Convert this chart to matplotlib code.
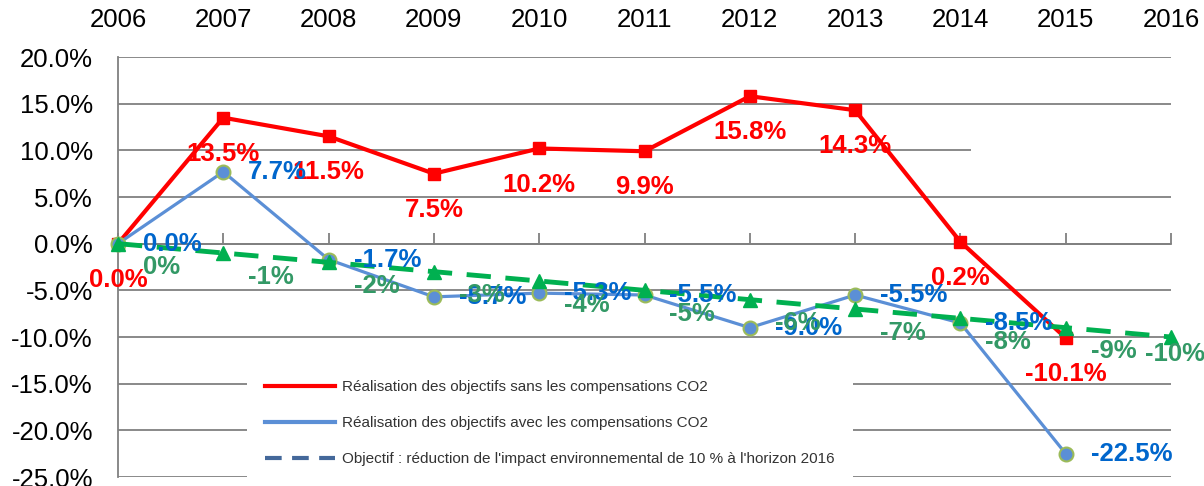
import matplotlib
matplotlib.use("Agg")
from matplotlib import pyplot as plt
from matplotlib.lines import Line2D
from matplotlib.ticker import FuncFormatter

plt.rcParams['font.family'] = ['Liberation Sans', 'DejaVu Sans']

years = [2006, 2007, 2008, 2009, 2010, 2011, 2012, 2013, 2014, 2015, 2016]
sans_co2 = [0.0, 13.5, 11.5, 7.5, 10.2, 9.9, 15.8, 14.3, 0.2, -10.1]
avec_co2 = [0.0, 7.7, -1.7, -5.7, -5.3, -5.5, -9.0, -5.5, -8.5, -22.5]
objectif = [0, -1, -2, -3, -4, -5, -6, -7, -8, -9, -10]
y_ticks = [-25, -20, -15, -10, -5, 0, 5, 10, 15, 20]

labels = ["Réalisation des objectifs sans les compensations CO2",
          "Réalisation des objectifs avec les compensations CO2",
          "Objectif : réduction de l'impact environnemental de 10 % à l'horizon 2016"]

fig = plt.figure(figsize=(12.04, 4.86), dpi=100)
ax = fig.add_axes([118/1204, 1-477/486, (1171-118)/1204, (477-57)/486])

# gridlines (the 10% one stops short in the original)
grid_end = {10: 2014.1}
for v in y_ticks:
    ax.hlines(v, 2006, grid_end.get(v, 2016), color='#808080', lw=1.3, zorder=0)

# lines
ax.plot(years[:len(sans_co2)], sans_co2, color='#FF0000', lw=3, marker='s',
        markersize=9, clip_on=False, zorder=3)
ax.plot(years[:len(avec_co2)], avec_co2, color='#5B8FD6', lw=2.3, marker='o',
        markersize=10, markerfacecolor='#5B8FD6', markeredgecolor='#9BBB59',
        markeredgewidth=1.5, clip_on=False, zorder=4)
ax.plot(years, objectif, color='#00B050', lw=3.5, dashes=(5, 3), marker='^',
        markersize=10, clip_on=False, zorder=5)

# data labels
fs = 18.5
for x, v in zip(years, sans_co2):
    ax.annotate(f"{v:.1f}%", (x, v), xytext=(0, -26), textcoords='offset points',
                ha='center', va='center', color='#FF0000', fontsize=fs,
                fontweight='bold', zorder=6)
for x, v in zip(years, avec_co2):
    ax.annotate(f"{v:.1f}%", (x, v), xytext=(18, 0), textcoords='offset points',
                ha='left', va='center', color='#0066CC', fontsize=fs,
                fontweight='bold', zorder=7)
for i, (x, v) in enumerate(zip(years, objectif)):
    off = (18, -17) if i < len(objectif) - 1 else (-19, -12)
    ax.annotate(f"{v}%", (x, v), xytext=off, textcoords='offset points',
                ha='left', va='center', color='#339966', fontsize=fs,
                fontweight='bold', zorder=8)

ax.set_xlim(2006, 2016)
ax.set_ylim(-25, 20)
ax.set_xticks(years)
ax.set_yticks(y_ticks)
ax.yaxis.set_major_formatter(FuncFormatter(lambda v, p: f"{v:.1f}%"))

for s in ['top', 'right']:
    ax.spines[s].set_visible(False)
ax.spines['left'].set_color('#808080')
ax.spines['left'].set_linewidth(1.3)
ax.spines['bottom'].set_position(('data', 0))
ax.spines['bottom'].set_color('#808080')
ax.spines['bottom'].set_linewidth(1.3)

ax.tick_params(axis='x', direction='in', length=8, width=1.3, color='#808080',
               bottom=True, top=False, labelbottom=False, labeltop=True,
               labelsize=18.5, pad=18)
ax.tick_params(axis='y', length=0, labelsize=18.5, pad=18)

handles = [Line2D([], [], color='#FF0000', lw=3),
           Line2D([], [], color='#5B8FD6', lw=3),
           Line2D([], [], color='#44689A', lw=3, dashes=(4, 2.5))]
leg = ax.legend(handles, labels, loc='upper left',
                bbox_to_anchor=(247/1204, 1-362/486), bbox_transform=fig.transFigure,
                borderaxespad=0, borderpad=1.18, fontsize=11, handlelength=4.6,
                handletextpad=0.45, labelspacing=1.45, frameon=True, fancybox=False,
                framealpha=1, facecolor='white', edgecolor='none')
leg.set_zorder(10)
for t in leg.get_texts():
    t.set_color('#333333')

fig.savefig("out.png", dpi=100)
